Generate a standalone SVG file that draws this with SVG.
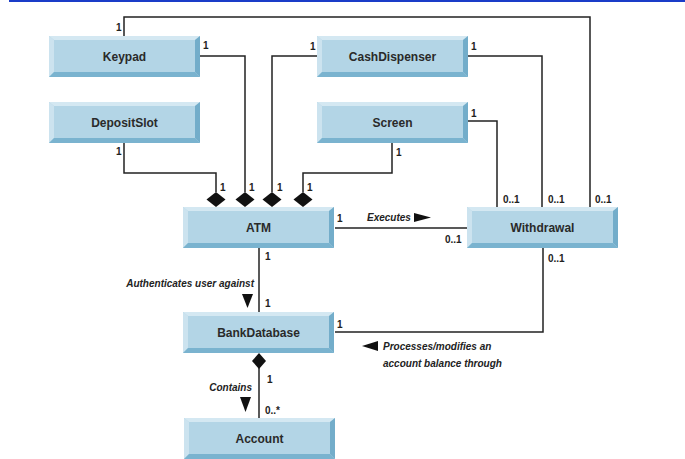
<svg xmlns="http://www.w3.org/2000/svg" width="685" height="459" viewBox="0 0 685 459">
<style>
.main{fill:#b3d5e6}
.lt{fill:#d4e8f2}
.ll{fill:#cce3ef}
.dr{fill:#73adca}
.db{fill:#7ab3cf}
.name{font-family:"Liberation Sans",Arial,sans-serif;font-size:12px;font-weight:bold;fill:#2a2a2a;text-anchor:middle}
.conn{fill:none;stroke:#222;stroke-width:1.5}
.dia{fill:#111}
.m{font-family:"Liberation Sans",Arial,sans-serif;font-size:10px;font-weight:bold;fill:#222}
.r{font-family:"Liberation Sans",Arial,sans-serif;font-size:10px;font-weight:bold;font-style:italic;fill:#222}
</style>
<defs>
<g id="box">
<rect class="main" x="0" y="0" width="151" height="41"/>
<polygon class="lt" points="0,0 151,0 146,4 5,4"/>
<polygon class="ll" points="0,0 5,4 5,36 0,41"/>
<polygon class="dr" points="151,0 151,41 146,36 146,4"/>
<polygon class="db" points="0,41 151,41 146,36 5,36"/>
</g>
</defs>
<rect x="9" y="0" width="676" height="2" fill="#1a3cc8"/>

<g id="connectors">
<path class="conn" d="M124,36 V17 H590 V207"/>
<path class="conn" d="M200,56 H245 V192"/>
<path class="conn" d="M317,56 H272 V192"/>
<path class="conn" d="M468,56 H542 V207"/>
<path class="conn" d="M124,143 V173 H216 V192"/>
<path class="conn" d="M392,143 V173 H303 V192"/>
<path class="conn" d="M468,121 H497 V207"/>
<path class="conn" d="M335,228 H467"/>
<path class="conn" d="M259,248 V312"/>
<path class="conn" d="M335,332 H543 V248"/>
<path class="conn" d="M259,368 V418"/>
<path class="dia" d="M216,192 L225.5,199.5 L216,207 L206.5,199.5 Z"/>
<path class="dia" d="M245,192 L254.5,199.5 L245,207 L235.5,199.5 Z"/>
<path class="dia" d="M272,192 L281.5,199.5 L272,207 L262.5,199.5 Z"/>
<path class="dia" d="M303,192 L312.5,199.5 L303,207 L293.5,199.5 Z"/>
<path class="dia" d="M259,353 L266,361 L259,369 L252,361 Z"/>
<polygon class="dia" points="414,213 431,217.5 414,222"/>
<polygon class="dia" points="242,294 253,294 247.5,308"/>
<polygon class="dia" points="362,346 378,341 378,351"/>
<polygon class="dia" points="240,397 251,397 245.5,412"/>
<text class="m" x="116" y="31">1</text>
<text class="m" x="203" y="49">1</text>
<text class="m" x="310" y="50">1</text>
<text class="m" x="471" y="50">1</text>
<text class="m" x="116" y="155">1</text>
<text class="m" x="396" y="156">1</text>
<text class="m" x="471" y="117">1</text>
<text class="m" x="220" y="191">1</text>
<text class="m" x="249" y="191">1</text>
<text class="m" x="277" y="191">1</text>
<text class="m" x="307" y="191">1</text>
<text class="m" x="337" y="222">1</text>
<text class="m" x="445" y="243">0..1</text>
<text class="m" x="503" y="203">0..1</text>
<text class="m" x="548" y="203">0..1</text>
<text class="m" x="595" y="203">0..1</text>
<text class="m" x="548" y="262">0..1</text>
<text class="m" x="265" y="260">1</text>
<text class="m" x="265" y="307">1</text>
<text class="m" x="337" y="328">1</text>
<text class="m" x="267" y="383">1</text>
<text class="m" x="265" y="414">0..*</text>
<text class="r" x="367" y="221">Executes</text>
<text class="r" x="254" y="287" text-anchor="end">Authenticates user against</text>
<text class="r" x="383" y="350">Processes/modifies an</text>
<text class="r" x="383" y="367">account balance through</text>
<text class="r" x="252" y="391" text-anchor="end">Contains</text>
</g>

<g id="Keypad"><use href="#box" x="49" y="36"/><text class="name" x="124.5" y="61">Keypad</text></g>
<g id="DepositSlot"><use href="#box" x="49" y="102"/><text class="name" x="124.5" y="127">DepositSlot</text></g>
<g id="CashDispenser"><use href="#box" x="317" y="36"/><text class="name" x="392.5" y="61">CashDispenser</text></g>
<g id="Screen"><use href="#box" x="317" y="102"/><text class="name" x="392.5" y="127">Screen</text></g>
<g id="ATM"><use href="#box" x="183" y="207"/><text class="name" x="258.5" y="232">ATM</text></g>
<g id="Withdrawal"><use href="#box" x="467" y="207"/><text class="name" x="542.5" y="232">Withdrawal</text></g>
<g id="BankDatabase"><use href="#box" x="183" y="312"/><text class="name" x="258.5" y="337">BankDatabase</text></g>
<g id="Account"><use href="#box" x="184" y="418"/><text class="name" x="259.5" y="443">Account</text></g>
</svg>
